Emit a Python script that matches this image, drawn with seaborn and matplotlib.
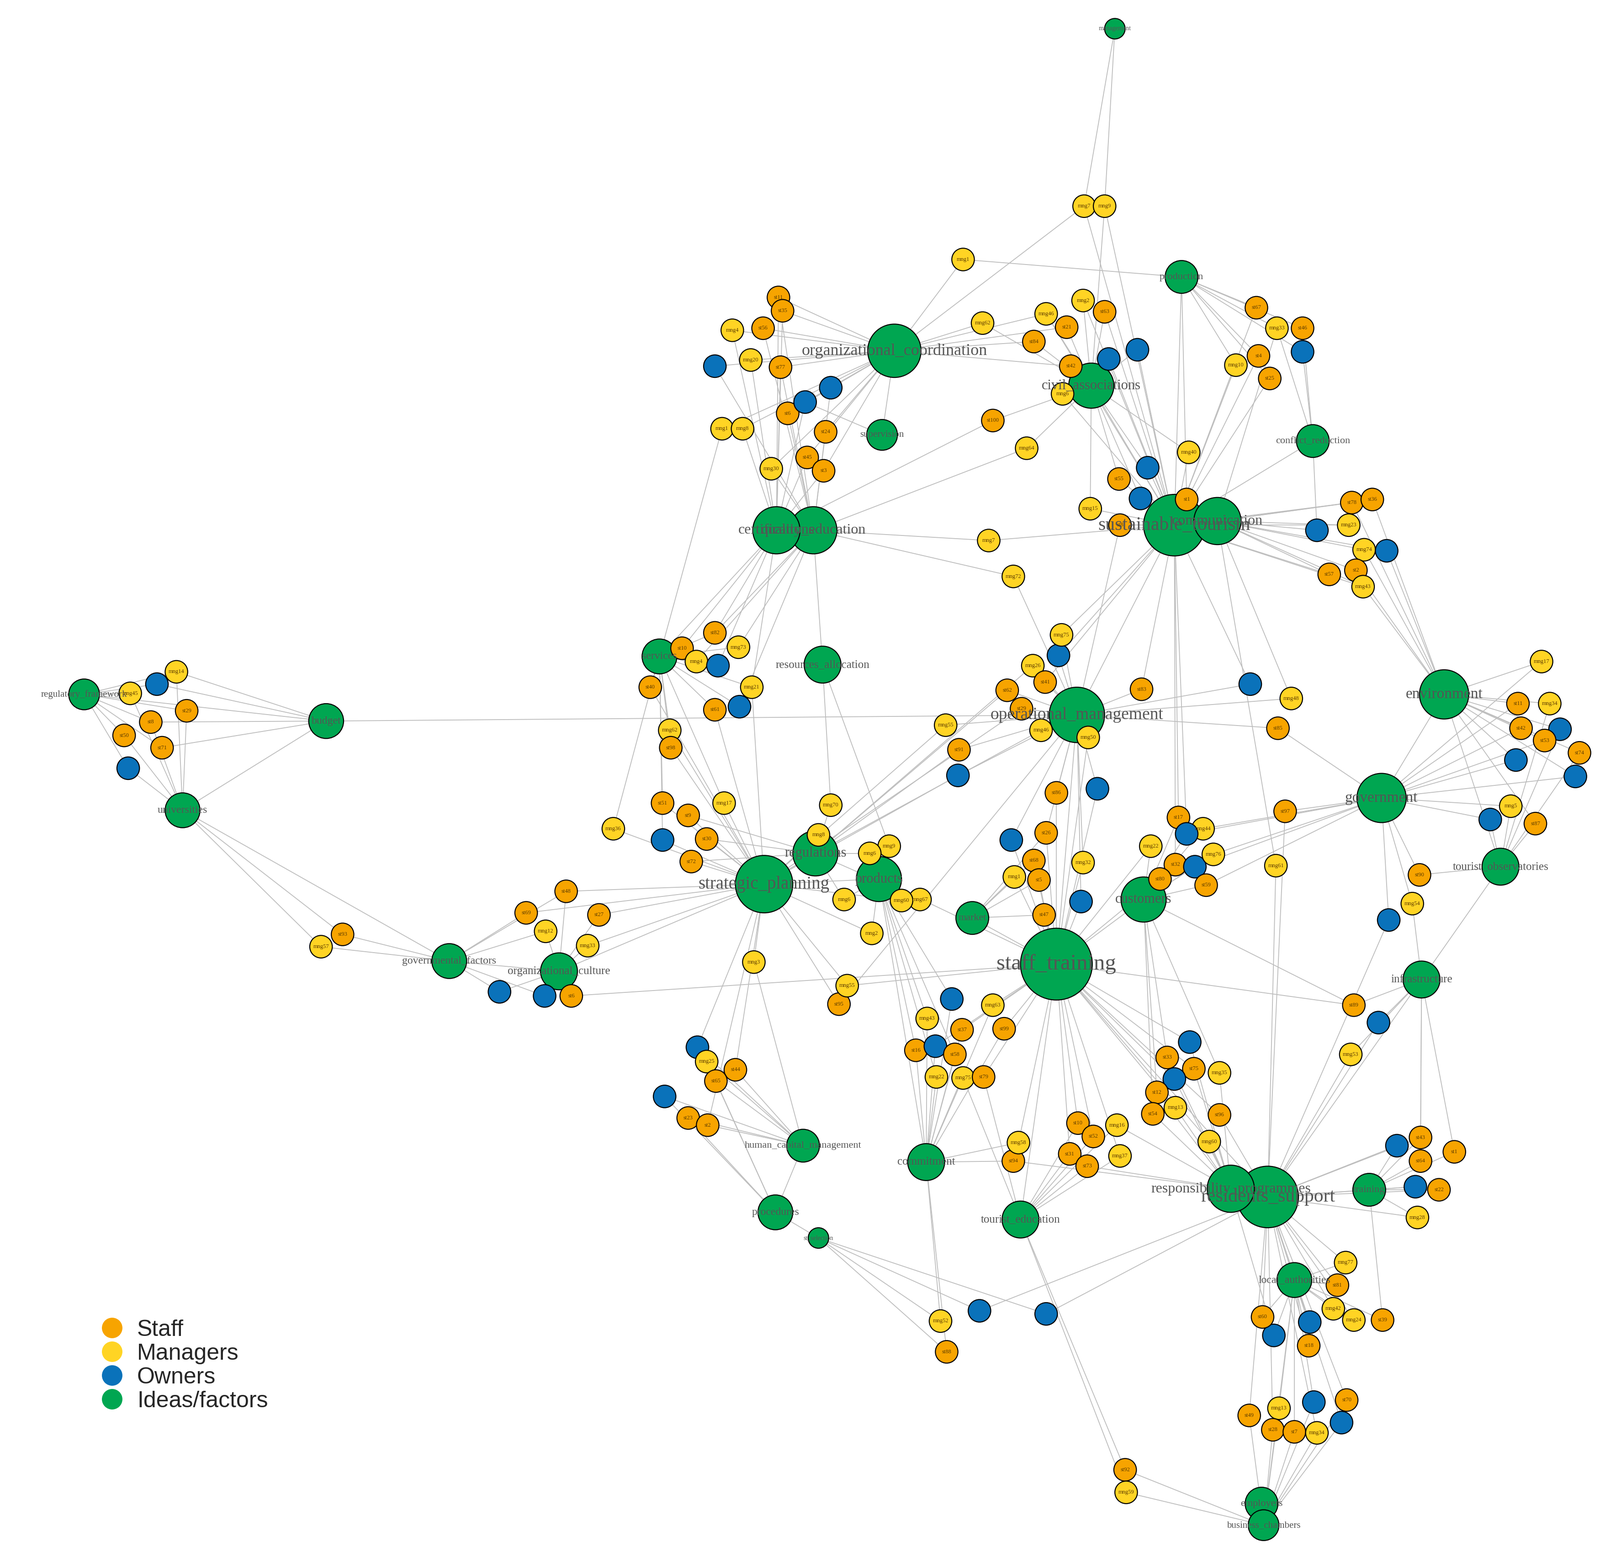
import numpy as np
import pandas as pd
import matplotlib
matplotlib.use("Agg")
import matplotlib.pyplot as plt
import seaborn as sns
from matplotlib.collections import LineCollection
from matplotlib.lines import Line2D

# ---- idea / factor nodes: key, label, x, y, radius (px in a 1560-wide view)
idea_key = ["mgmt", "prod", "orgc", "civ", "sup", "conf", "cert", "qed", "sust", "comm",
            "serv", "res", "opm", "env", "reg", "bud", "uni", "gov", "regs", "tobs",
            "strat", "prods", "mkt", "cust", "stt", "infra", "govf", "orgcul", "hcm", "cmt",
            "proc", "ted", "sel", "resp", "resid", "trn", "loc", "emp", "bch"]
idea_label = ["management", "production", "organizational_coordination", "civil_associations",
              "supervision", "conflict_reduction", "certifications", "quality_education",
              "sustainable_tourism", "communication", "services", "resources_allocation",
              "operational_management", "environment", "regulatory_framework", "budget",
              "universities", "government", "regulations", "tourist_observatories",
              "strategic_planning", "products", "market", "customers", "staff_training",
              "infrastructure", "governmental_factors", "organizational_culture",
              "human_capital_management", "commitment", "procedures", "tourist_education",
              "st_selection", "responsibility_programmes", "residents_support", "training",
              "local_authorities", "employers", "business_chambers"]
idea_x = [1087, 1152, 872, 1064, 860, 1280, 757, 793, 1145, 1187, 643, 802, 1050, 1408, 82, 318,
          178, 1347, 795, 1463, 745, 857, 948, 1115, 1030, 1386, 438, 545, 783, 903, 756, 995,
          798, 1200, 1236, 1335, 1262, 1230, 1232]
idea_y = [28, 270, 342, 376, 424, 430, 517, 517, 512, 508, 640, 648, 697, 677, 677, 703, 790,
          778, 832, 845, 862, 857, 895, 877, 940, 955, 937, 947, 1117, 1133, 1182, 1189, 1207,
          1159, 1167, 1160, 1248, 1466, 1487]
idea_r = [10, 16, 26, 22, 15, 16, 23, 23, 30, 23, 17, 18, 27, 24, 15, 17, 17, 24, 22, 18, 28,
          22, 16, 22, 35, 18, 17, 18, 16, 18, 17, 18, 10, 23, 30, 16, 17, 16, 15]

idea_edges = [("bud", "reg"), ("bud", "uni"), ("bud", "opm"), ("uni", "govf"), ("govf", "orgcul"),
              ("orgcul", "strat"), ("strat", "regs"), ("strat", "prods"), ("prods", "stt"),
              ("opm", "stt"), ("cust", "stt"), ("stt", "resid"), ("resp", "resid"),
              ("resid", "trn"), ("resid", "loc"), ("loc", "bch"), ("gov", "env"), ("env", "tobs"),
              ("tobs", "infra"), ("infra", "resid"), ("sust", "comm"), ("sust", "opm"),
              ("cert", "qed"), ("qed", "res"), ("cert", "serv"), ("orgc", "sup"), ("civ", "sust"),
              ("conf", "sust"), ("prod", "sust"), ("hcm", "proc"), ("proc", "sel"),
              ("cmt", "prods"), ("ted", "stt"), ("mkt", "stt"), ("emp", "bch")]

# ---- people nodes: label, x, y, group (S staff, M managers, O owners), linked ideas
people = [
    ("mng7", 1057, 201, "M", "mgmt orgc sust"), ("mng9", 1077, 201, "M", "mgmt civ sust"),
    ("mng1", 939, 253, "M", "orgc prod"),
    ("st11", 759, 290, "S", "orgc cert qed"), ("st35", 763, 303, "S", "orgc cert"),
    ("mng4", 714, 322, "M", "orgc cert"), ("st56", 744, 320, "S", "orgc qed"),
    ("mng20", 732, 351, "M", "orgc cert"), ("", 697, 357, "O", "orgc qed"),
    ("st77", 761, 358, "S", "orgc cert qed"), ("", 810, 378, "O", "orgc qed"),
    ("", 785, 392, "O", "orgc cert sup"), ("st6", 768, 403, "S", "orgc qed"),
    ("mng1", 704, 418, "M", "orgc serv"), ("mng8", 724, 418, "M", "orgc cert"),
    ("st24", 805, 421, "S", "orgc qed"), ("st45", 787, 446, "S", "orgc cert"),
    ("mng30", 752, 457, "M", "orgc qed"), ("st3", 803, 459, "S", "orgc cert"),
    ("mng62", 958, 315, "M", "civ orgc"), ("mng46", 1020, 306, "M", "civ orgc sust"),
    ("mng2", 1056, 293, "M", "civ sust"), ("st63", 1077, 304, "S", "civ sust"),
    ("st21", 1040, 319, "S", "civ orgc"), ("st84", 1008, 333, "S", "civ orgc"),
    ("", 1109, 341, "O", "civ sust"), ("", 1081, 350, "O", "civ sust"),
    ("st42", 1044, 357, "S", "civ orgc"), ("mng6", 1036, 384, "M", "civ sust"),
    ("st100", 968, 410, "S", "civ cert"), ("mng64", 1001, 437, "M", "civ qed"),
    ("mng40", 1159, 441, "M", "civ sust"), ("", 1119, 456, "O", "civ sust"),
    ("st55", 1091, 467, "S", "civ sust"), ("", 1112, 486, "O", "sust civ"),
    ("st1", 1157, 487, "S", "sust prod"), ("mng15", 1063, 496, "M", "sust civ"),
    ("st8", 1092, 512, "S", "sust opm"),
    ("st67", 1225, 300, "S", "prod sust"), ("mng33", 1245, 320, "M", "prod conf comm"),
    ("st46", 1270, 320, "S", "prod conf"), ("mng10", 1205, 356, "M", "prod sust"),
    ("st4", 1227, 347, "S", "prod sust"), ("", 1270, 343, "O", "prod conf"),
    ("st25", 1238, 369, "S", "prod sust"),
    ("st78", 1318, 490, "S", "comm sust env"), ("st36", 1338, 487, "S", "comm env"),
    ("mng23", 1315, 512, "M", "comm sust"), ("", 1284, 517, "O", "comm conf"),
    ("mng74", 1330, 536, "M", "comm env"), ("", 1352, 537, "O", "comm env"),
    ("st57", 1296, 560, "S", "comm sust"), ("st2", 1322, 556, "S", "comm env"),
    ("mng43", 1329, 572, "M", "comm env sust"),
    ("mng7", 964, 527, "M", "qed sust"), ("mng72", 988, 562, "M", "qed opm"),
    ("mng75", 1035, 619, "M", "opm sust"), ("", 1032, 639, "O", "opm sust"),
    ("mng26", 1007, 649, "M", "opm regs"), ("st41", 1019, 665, "S", "opm sust"),
    ("st62", 982, 673, "S", "opm regs"), ("st29", 996, 691, "S", "opm strat"),
    ("mng46", 1015, 712, "M", "opm regs"), ("st83", 1113, 672, "S", "opm sust"),
    ("", 1219, 667, "O", "opm sust"), ("mng48", 1259, 681, "M", "opm comm"),
    ("st85", 1246, 710, "S", "opm gov"), ("mng50", 1061, 719, "M", "opm stt"),
    ("mng55", 922, 707, "M", "opm strat"), ("st91", 935, 731, "S", "opm regs"),
    ("", 934, 756, "O", "opm strat"),
    ("st82", 697, 617, "S", "serv cert qed"), ("st10", 665, 632, "S", "serv cert"),
    ("mng4", 679, 645, "M", "serv qed"), ("", 700, 649, "O", "serv cert"),
    ("mng73", 720, 631, "M", "serv qed"), ("st40", 634, 670, "S", "serv strat"),
    ("mng21", 733, 670, "M", "serv cert strat"), ("st61", 697, 692, "S", "serv strat"),
    ("", 721, 689, "O", "serv qed"), ("mng62", 653, 712, "M", "serv strat"),
    ("st98", 654, 729, "S", "serv strat"),
    ("mng14", 172, 655, "M", "reg uni bud"), ("mng45", 127, 676, "M", "reg uni"),
    ("", 153, 667, "O", "reg bud"), ("st29", 182, 693, "S", "reg uni"),
    ("st8", 147, 704, "S", "reg uni bud"), ("st50", 121, 717, "S", "reg uni"),
    ("st71", 158, 729, "S", "reg bud"), ("", 125, 749, "O", "reg uni"),
    ("st51", 646, 783, "S", "strat serv"), ("st9", 671, 795, "S", "strat regs"),
    ("mng17", 706, 783, "M", "strat serv"), ("st30", 689, 818, "S", "strat regs"),
    ("", 646, 819, "O", "strat serv"), ("mng36", 598, 808, "M", "strat serv"),
    ("st72", 674, 840, "S", "strat regs"), ("mng70", 810, 785, "M", "regs res"),
    ("mng8", 798, 814, "M", "regs strat"), ("mng9", 867, 825, "M", "prods res"),
    ("mng6", 848, 832, "M", "prods regs"),
    ("st86", 1030, 773, "S", "stt opm"), ("", 1070, 769, "O", "opm stt"),
    ("st26", 1020, 812, "S", "stt opm mkt"), ("", 986, 819, "O", "stt opm"),
    ("st68", 1008, 839, "S", "stt mkt"), ("mng32", 1056, 841, "M", "stt opm"),
    ("mng1", 989, 855, "M", "mkt stt"), ("st5", 1013, 858, "S", "mkt stt"),
    ("", 1054, 879, "O", "stt opm"), ("st47", 1018, 892, "S", "stt mkt"),
    ("st17", 1149, 797, "S", "cust sust"), ("mng44", 1173, 808, "M", "cust gov"),
    ("", 1157, 813, "O", "cust gov sust"), ("mng22", 1122, 825, "M", "cust stt"),
    ("mng76", 1183, 833, "M", "cust gov"), ("st32", 1146, 843, "S", "cust sust"),
    ("", 1165, 845, "O", "cust gov"), ("st80", 1131, 857, "S", "cust stt"),
    ("st59", 1176, 863, "S", "cust gov"), ("st97", 1253, 791, "S", "gov resid"),
    ("mng61", 1244, 844, "M", "comm resid"),
    ("st48", 552, 869, "S", "govf orgcul strat"), ("st69", 513, 890, "S", "govf strat"),
    ("st27", 584, 892, "S", "orgcul strat"), ("mng12", 532, 908, "M", "govf orgcul"),
    ("mng33", 573, 922, "M", "orgcul strat"), ("", 487, 967, "O", "govf orgcul"),
    ("", 531, 971, "O", "orgcul govf"), ("st6", 557, 971, "S", "orgcul stt"),
    ("st93", 334, 911, "S", "govf uni"), ("mng57", 313, 923, "M", "govf uni"),
    ("mng6", 823, 877, "M", "prods regs"), ("mng60", 879, 878, "M", "prods strat"),
    ("mng67", 897, 877, "M", "prods regs"), ("mng2", 850, 910, "M", "prods strat"),
    ("mng3", 735, 938, "M", "strat hcm"), ("mng55", 826, 961, "M", "strat stt"),
    ("st95", 818, 979, "S", "strat opm"),
    ("", 928, 974, "O", "cmt prods"), ("mng63", 968, 980, "M", "cmt stt"),
    ("mng43", 904, 993, "M", "cmt prods"), ("st37", 938, 1004, "S", "cmt stt"),
    ("st99", 979, 1003, "S", "stt cmt"), ("st16", 893, 1024, "S", "cmt prods"),
    ("", 912, 1020, "O", "cmt stt"), ("st58", 931, 1028, "S", "cmt prods"),
    ("mng22", 913, 1050, "M", "cmt prods"), ("mng75", 939, 1051, "M", "cmt ted"),
    ("st79", 959, 1050, "S", "ted stt"),
    ("", 1160, 1016, "O", "stt resp"), ("st33", 1138, 1031, "S", "resp cust"),
    ("st75", 1164, 1042, "S", "resp stt"), ("mng35", 1189, 1046, "M", "resp cust"),
    ("", 1145, 1052, "O", "resp stt"), ("st12", 1128, 1065, "S", "resp cust"),
    ("mng13", 1146, 1080, "M", "resp stt"), ("st54", 1124, 1086, "S", "resp cust"),
    ("st96", 1189, 1087, "S", "resid stt"), ("mng60", 1179, 1113, "M", "resp stt"),
    ("st10", 1051, 1095, "S", "ted stt"), ("st52", 1066, 1108, "S", "ted stt"),
    ("mng16", 1089, 1097, "M", "ted resp"), ("mng37", 1092, 1127, "M", "ted stt"),
    ("st31", 1043, 1125, "S", "ted stt"), ("st73", 1060, 1137, "S", "ted resp"),
    ("mng58", 993, 1114, "M", "cmt stt"), ("st94", 988, 1132, "S", "cmt resp"),
    ("st89", 1320, 980, "S", "infra stt cust"), ("", 1344, 997, "O", "infra resid"),
    ("mng53", 1317, 1028, "M", "infra resid"),
    ("", 680, 1021, "O", "hcm strat"), ("mng25", 689, 1035, "M", "hcm proc"),
    ("st44", 717, 1043, "S", "hcm strat"), ("st65", 698, 1054, "S", "hcm proc"),
    ("", 648, 1069, "O", "hcm proc"), ("st23", 671, 1090, "S", "hcm proc"),
    ("st2", 690, 1097, "S", "hcm strat"),
    ("st43", 1385, 1109, "S", "trn resid infra"), ("", 1362, 1117, "O", "trn resid"),
    ("st64", 1385, 1132, "S", "trn infra"), ("st1", 1418, 1123, "S", "trn infra"),
    ("", 1380, 1157, "O", "trn resid"), ("st22", 1403, 1160, "S", "trn resid"),
    ("mng28", 1382, 1187, "M", "trn resid"),
    ("st90", 1384, 853, "S", "gov tobs"), ("", 1354, 897, "O", "gov resid"),
    ("mng54", 1377, 881, "M", "gov infra"), ("", 1453, 799, "O", "gov tobs"),
    ("st87", 1497, 803, "S", "tobs env"), ("mng5", 1473, 786, "M", "gov tobs"),
    ("mng17", 1503, 645, "M", "env gov"), ("st11", 1480, 686, "S", "env gov"),
    ("mng34", 1511, 686, "M", "env tobs"), ("st42", 1483, 710, "S", "env gov"),
    ("", 1521, 711, "O", "env tobs"), ("st53", 1506, 722, "S", "env gov"),
    ("", 1478, 741, "O", "env gov"), ("st74", 1540, 734, "S", "env tobs"),
    ("", 1536, 757, "O", "env gov"),
    ("mng77", 1312, 1231, "M", "loc resid"), ("st81", 1304, 1253, "S", "loc resid"),
    ("mng42", 1300, 1276, "M", "loc resid"), ("mng24", 1320, 1287, "M", "loc resid"),
    ("st39", 1348, 1287, "S", "loc trn"), ("st60", 1231, 1284, "S", "loc resid"),
    ("", 1277, 1289, "O", "loc resid"), ("", 1242, 1302, "O", "loc resp"),
    ("st18", 1276, 1312, "S", "loc resid"),
    ("", 1281, 1367, "O", "bch loc"), ("st70", 1313, 1365, "S", "bch resid"),
    ("mng13", 1247, 1373, "M", "bch loc"), ("st49", 1218, 1380, "S", "bch resid"),
    ("", 1308, 1387, "O", "bch loc"), ("st28", 1241, 1394, "S", "bch resid"),
    ("st7", 1262, 1396, "S", "bch loc"), ("mng34", 1284, 1397, "M", "bch resid"),
    ("st92", 1097, 1433, "S", "bch ted"), ("mng59", 1098, 1455, "M", "bch ted"),
    ("mng52", 917, 1288, "M", "sel cmt"), ("", 955, 1278, "O", "sel resid"),
    ("", 1020, 1281, "O", "sel resid"), ("st88", 923, 1318, "S", "sel cmt"),
]

colors = {"S": "#F7A400", "M": "#FFD424", "O": "#0A72BA", "I": "#00A651"}
names = {"S": "Staff", "M": "Managers", "O": "Owners", "I": "Ideas/factors"}
small_r = 11

W, H = 1560, 1519
scale = 3502 / W
px2pt = 72 / 100

ipos = {k: (x, y) for k, x, y in zip(idea_key, idea_x, idea_y)}
segs = [[ipos[a], ipos[b]] for a, b in idea_edges]
for lab, x, y, g, links in people:
    for k in links.split():
        segs.append([(x, y), ipos[k]])

rows = [dict(x=x, y=y, group=names["I"], r=r, label=l)
        for l, x, y, r in zip(idea_label, idea_x, idea_y, idea_r)]
rows += [dict(x=x, y=y, group=names[g], r=small_r, label=l) for l, x, y, g, _ in people]
nodes = pd.DataFrame(rows)
nodes["area"] = (2 * nodes["r"] * scale * px2pt) ** 2
nodes = nodes.sort_values("r", ascending=False).reset_index(drop=True)

sns.set_style("white")
fig = plt.figure(figsize=(35.02, 34.10), dpi=100)
ax = fig.add_axes([0, 0, 1, 1])
ax.add_collection(LineCollection(segs, colors="#BDBDBD", linewidths=1.3, zorder=1))
amin, amax = nodes["area"].min(), nodes["area"].max()
pal = {names[k]: v for k, v in colors.items()}
sns.scatterplot(data=nodes, x="x", y="y", hue="group", palette=pal, size="area",
                sizes=(amin, amax), size_norm=(amin, amax), edgecolor="black",
                linewidth=1.6, legend=False, ax=ax, zorder=2)

for _, n in nodes.iterrows():
    if not n["label"]:
        continue
    fs = 9 if n["r"] == small_r else n["r"] * 1.0
    col = "#5A3A00" if n["r"] == small_r else "#555555"
    ax.text(n["x"], n["y"], n["label"], ha="center", va="center", fontsize=fs,
            color=col, family="Liberation Serif", zorder=3)

handles = [Line2D([], [], marker="o", ls="", markersize=2 * 10 * scale * px2pt,
                  markerfacecolor=colors[k], markeredgecolor="none", label=names[k])
           for k in ["S", "M", "O", "I"]]
ax.legend(handles=handles, loc="lower left", bbox_to_anchor=(0.05, 0.088), frameon=False,
          prop={"family": "Liberation Sans", "size": 36}, handletextpad=0.1,
          labelspacing=0.12, borderaxespad=0)

ax.set_xlim(0, W)
ax.set_ylim(H, 0)
ax.axis("off")
fig.savefig("out.png", dpi=100, facecolor="white")
